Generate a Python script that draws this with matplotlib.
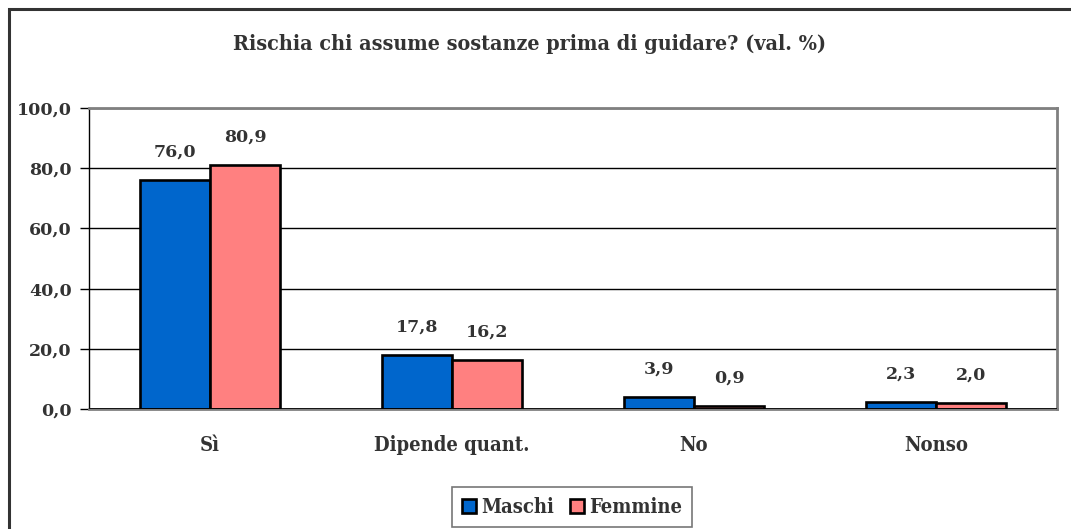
import matplotlib
matplotlib.use('Agg')
from matplotlib import pyplot as plt
from matplotlib.patches import Rectangle

# survey answers, share of respondents (%)
categories = ['Sì', 'Dipende quant.', 'No', 'Nonso']
maschi = [76.0, 17.8, 3.9, 2.3]
femmine = [80.9, 16.2, 0.9, 2.0]
y_ticks = [0, 20, 40, 60, 80, 100]

# colours
col_blue = '#0066CC'
col_pink = '#FF8080'
col_text = '#333333'
col_frame = '#808080'

font_n = {'family': 'DejaVu Serif', 'weight': 'bold'}
font_c = {'family': 'DejaVu Serif', 'stretch': 'condensed', 'weight': 'bold'}

fig = plt.figure(figsize=(10.71, 5.29), dpi=100)
fig.patch.set_facecolor('white')

# outer chart border
fig.patches.append(Rectangle((9 / 1071, -0.05), 1.2, 1 - 9 / 529 + 0.05,
                             transform=fig.transFigure, fill=False,
                             edgecolor=col_text, linewidth=2.2, zorder=0))

ax = fig.add_axes([89 / 1071, 1 - 409 / 529, (1057 - 89) / 1071, (409 - 108) / 529])

x = list(range(len(categories)))
w = 0.29
xm = [i - w / 2 for i in x]
xf = [i + w / 2 for i in x]
ax.bar(xm, maschi, width=w, color=col_blue, edgecolor='black',
       linewidth=1.9, label='Maschi', zorder=3)
ax.bar(xf, femmine, width=w, color=col_pink, edgecolor='black',
       linewidth=1.9, label='Femmine', zorder=3)

# value labels above bars
for xs, vals in ((xm, maschi), (xf, femmine)):
    for xi, v in zip(xs, vals):
        ax.annotate(f'{v:.1f}'.replace('.', ','), (xi, v), xytext=(0, 14),
                    textcoords='offset points', ha='center', va='bottom',
                    fontsize=12.5, color=col_text, **font_n)

ax.set_xlim(-0.5, 3.5)
ax.set_ylim(0, 100)
ax.set_yticks(y_ticks)
ax.set_yticklabels([f'{t:.1f}'.replace('.', ',') for t in y_ticks],
                   fontsize=12.5, color=col_text, **font_n)
ax.set_xticks(x)
ax.set_xticklabels(categories, fontsize=14.5, color=col_text, **font_c)
ax.tick_params(axis='y', direction='out', length=6.5, width=1, color='black', pad=6)
ax.tick_params(axis='x', length=0, pad=19)

ax.grid(axis='y', color='black', linewidth=1, zorder=1)
ax.set_axisbelow(True)

for side in ('top', 'right', 'bottom'):
    ax.spines[side].set_color(col_frame)
    ax.spines[side].set_linewidth(2)
ax.spines['left'].set_color('black')
ax.spines['left'].set_linewidth(1)
ax.axhline(0, color='black', linewidth=1.2, zorder=4)

# chart title, centred on the whole chart area
fig.text(530 / 1071, 1 - 44 / 529,
         'Rischia chi assume sostanze prima di guidare? (val. %)',
         ha='center', va='center', fontsize=15.4, color=col_text, **font_c)

leg = fig.legend(loc='center', bbox_to_anchor=(572 / 1071, 1 - 507 / 529),
                 ncol=2, frameon=True, fancybox=False, edgecolor='#555555',
                 prop={'family': 'DejaVu Serif', 'stretch': 'condensed',
                       'weight': 'bold', 'size': 14.5},
                 handlelength=0.7, handleheight=0.7, handletextpad=0.25,
                 columnspacing=0.8, borderpad=0.5)
leg.get_frame().set_linewidth(1.2)
for t in leg.get_texts():
    t.set_color(col_text)

fig.savefig('out.png', dpi=100)
